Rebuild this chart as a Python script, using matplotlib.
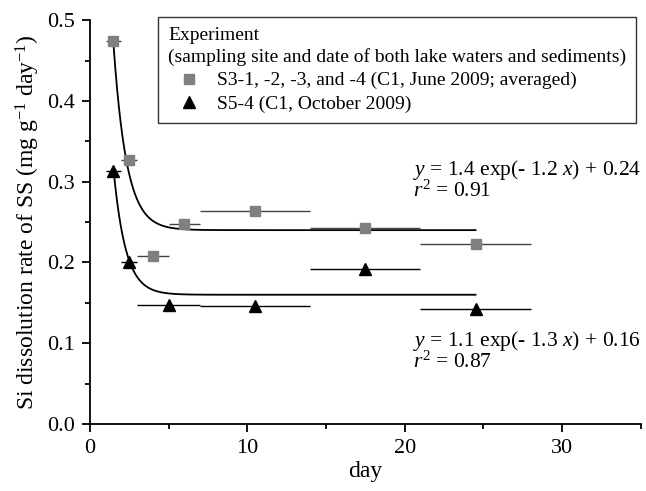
import numpy as np
import matplotlib
matplotlib.use("Agg")
import matplotlib.pyplot as plt
from matplotlib.lines import Line2D

plt.rcParams['font.family'] = ['Liberation Serif', 'DejaVu Serif']
plt.rcParams['mathtext.fontset'] = 'custom'
plt.rcParams['mathtext.rm'] = 'Liberation Serif'
plt.rcParams['mathtext.it'] = 'Liberation Serif:italic'

# Data
sq_x = [1.5, 2.5, 4.0, 6.0, 10.5, 17.5, 24.5]
sq_y = [0.474, 0.327, 0.208, 0.248, 0.264, 0.243, 0.223]
sq_xlo = [1.0, 2.0, 3.0, 5.0, 7.0, 14.0, 21.0]
sq_xhi = [2.0, 3.0, 5.0, 7.0, 14.0, 21.0, 28.0]

tr_x = [1.5, 2.5, 5.0, 10.5, 17.5, 24.5]
tr_y = [0.313, 0.200, 0.147, 0.146, 0.192, 0.142]
tr_xlo = [1.0, 2.0, 3.0, 7.0, 14.0, 21.0]
tr_xhi = [2.0, 3.0, 7.0, 14.0, 21.0, 28.0]

fit1 = (1.4, 1.2, 0.24)
fit2 = (1.1, 1.3, 0.16)

fig = plt.figure(figsize=(6.46, 4.91), dpi=100)
ax = fig.add_axes([0.139, 0.1365, 0.853, 0.8225])

sq_err = [np.array(sq_x) - np.array(sq_xlo), np.array(sq_xhi) - np.array(sq_x)]
tr_err = [np.array(tr_x) - np.array(tr_xlo), np.array(tr_xhi) - np.array(tr_x)]

xx = np.linspace(1.5, 24.5, 400)
ax.plot(xx, fit1[0]*np.exp(-fit1[1]*xx) + fit1[2], color='black', lw=1.3, zorder=2)
ax.plot(xx, fit2[0]*np.exp(-fit2[1]*xx) + fit2[2], color='black', lw=1.3, zorder=2)

ax.errorbar(sq_x, sq_y, xerr=sq_err, fmt='none', ecolor='#444444', elinewidth=1.0, capsize=0, zorder=3)
ax.errorbar(tr_x, tr_y, xerr=tr_err, fmt='none', ecolor='black', elinewidth=1.0, capsize=0, zorder=3)
ax.plot(sq_x, sq_y, 's', color='#808080', ms=7, mec='#808080', zorder=4, linestyle='none')
ax.plot(tr_x, tr_y, '^', color='black', ms=9, zorder=4, linestyle='none')

ax.set_xlim(0, 35)
ax.set_ylim(0, 0.5)
ax.set_xticks([0, 10, 20, 30])
ax.set_xticks([5, 15, 25, 35], minor=True)
ax.set_yticks([0.0, 0.1, 0.2, 0.3, 0.4, 0.5])
ax.set_yticklabels(['0.0', '0.1', '0.2', '0.3', '0.4', '0.5'])
ax.set_yticks(np.arange(0.05, 0.5, 0.1), minor=True)
ax.spines['top'].set_visible(False)
ax.spines['right'].set_visible(False)
for s in ['left', 'bottom']:
    ax.spines[s].set_linewidth(1.3)
ax.tick_params(which='major', direction='out', length=6, width=1.3, labelsize=16, pad=5)
ax.tick_params(which='minor', direction='out', length=3.5, width=1.3)

ax.set_xlabel('day', fontsize=17, labelpad=2)
ax.set_ylabel('Si dissolution rate of SS (mg g$^{-1}$ day$^{-1}$)', fontsize=17, labelpad=3)

handles = [
    Line2D([], [], marker='s', color='#808080', linestyle='none', ms=7),
    Line2D([], [], marker='^', color='black', linestyle='none', ms=9),
]
labels = ['S3-1, -2, -3, and -4 (C1, June 2009; averaged)', 'S5-4 (C1, October 2009)']
leg = ax.legend(handles, labels,
                title='Experiment\n(sampling site and date of both lake waters and sediments)',
                loc='upper right', bbox_to_anchor=(0.991, 1.0074), fontsize=14,
                title_fontsize=14, frameon=True, fancybox=False, edgecolor='#333333',
                framealpha=1, alignment='left', handletextpad=0.3, borderpad=0.5,
                labelspacing=0.3, handlelength=2.2, borderaxespad=0)
leg.get_frame().set_linewidth(1.0)
leg.get_title().set_linespacing(1.3)

ax.text(20.5, 0.308, '$y$ = 1.4 exp(- 1.2 $x$) + 0.24', fontsize=15.5, va='baseline')
ax.text(20.5, 0.281, '$r^2$ = 0.91', fontsize=15.5, va='baseline')
ax.text(20.5, 0.0965, '$y$ = 1.1 exp(- 1.3 $x$) + 0.16', fontsize=15.5, va='baseline')
ax.text(20.5, 0.069, '$r^2$ = 0.87', fontsize=15.5, va='baseline')

fig.savefig('out.png', dpi=100)
